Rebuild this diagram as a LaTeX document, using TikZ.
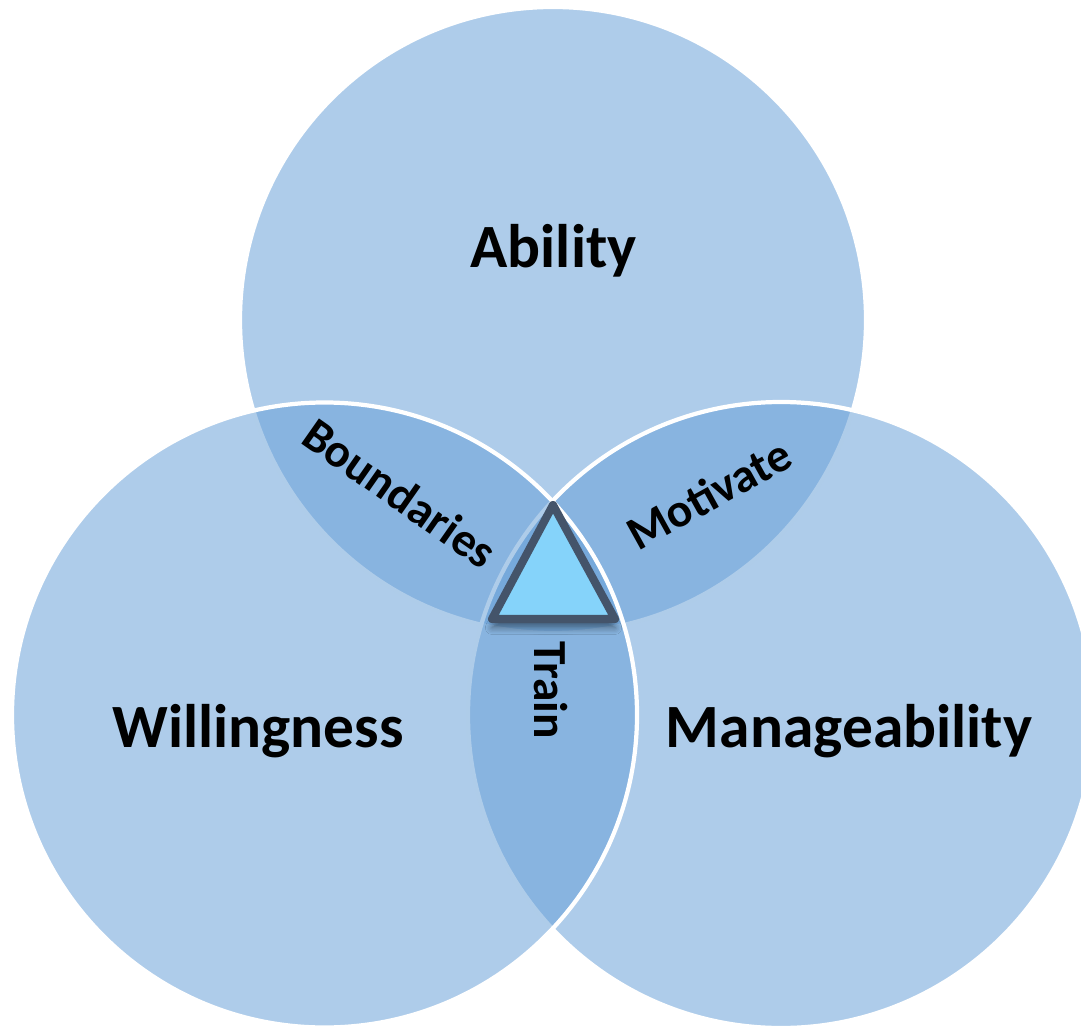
\documentclass[tikz,border=0pt]{standalone}
\usepackage{fontspec}
\setmainfont{Carlito}
\usetikzlibrary{shadows.blur}

\definecolor{vennblue}{RGB}{102,159,215}
\definecolor{trifill}{RGB}{133,211,250}
\definecolor{triline}{RGB}{68,84,106}

\begin{document}
\begin{tikzpicture}[
    big/.style = {font = \bfseries\fontsize{17.5}{20}\selectfont, anchor = base},
    small/.style = {font = \bfseries\fontsize{13.5}{15}\selectfont}
  ]
    \useasboundingbox (0, 0) rectangle (10.81, 10.25);
    \clip (0, 0) rectangle (10.81, 10.25);

    % ability, manageability, willingness (drawn in that order)
    \foreach \x/\y/\r in {5.53/7.05/3.13, 7.81/3.10/3.13, 3.245/3.10/3.125} {
      \draw [white, line width = 1.2pt, fill = vennblue, fill opacity = 0.53] (\x, \y) circle (\r);
    }

    \node [big] (ability) at (5.535, 7.57) {Ability};
    \node [big] (willing) at (2.58, 2.78) {Willingness};
    \node [big] (manage) at (8.49, 2.78) {Manageability};

    \node [small, rotate = -35] (bound) at (4.00, 5.32) {Boundaries};
    \node [small, rotate = 29] (motiv) at (7.09, 5.31) {Motivate};
    \node [small, rotate = -90] (train) at (5.51, 3.35) {Train};

    \draw [triline, fill = trifill, line width = 2.3pt, line join = round,
      blur shadow = {shadow xshift = 0pt, shadow yshift = -2.5pt, shadow blur steps = 6, shadow opacity = 45}]
      (5.53, 5.20) -- (4.92, 4.06) -- (6.15, 4.06) -- cycle;
  \end{tikzpicture}
\end{document}
